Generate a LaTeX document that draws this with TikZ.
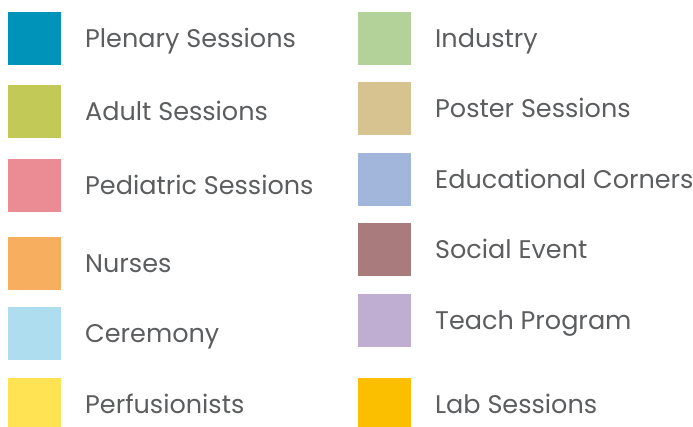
\documentclass[tikz,border=0pt]{standalone}
\usepackage{fontspec}
\setmainfont{Poppins}
\usetikzlibrary{positioning}
\definecolor{plenary}{HTML}{0093BA}
\definecolor{adult}{HTML}{C3C957}
\definecolor{pediatric}{HTML}{EB8C94}
\definecolor{nurses}{HTML}{F7AF5F}
\definecolor{ceremony}{HTML}{ADDDEF}
\definecolor{perfusion}{HTML}{FFE352}
\definecolor{industry}{HTML}{B3D29A}
\definecolor{poster}{HTML}{D6C38F}
\definecolor{educ}{HTML}{A2B5DA}
\definecolor{social}{HTML}{A97B7D}
\definecolor{teach}{HTML}{BFAED2}
\definecolor{lab}{HTML}{FBBF00}
\definecolor{labeltext}{HTML}{5C5D5F}
\tikzset{
  swatch/.style={minimum size=53pt,inner sep=0pt,outer sep=0pt},
  entry/.style={right=24pt of #1,inner sep=0pt,text height=18pt,text depth=0pt,
    text=labeltext,font=\fontsize{25.5}{26}\selectfont}
}
\begin{document}
\begin{tikzpicture}[x=1pt,y=-1pt]
  \useasboundingbox (0,0) rectangle (693,426);
  % left column
  \node[swatch,fill=plenary]   (plenary)   at (34.5,38.5)  {};
  \node[swatch,fill=adult]     (adult)     at (34.5,111.5) {};
  \node[swatch,fill=pediatric] (pediatric) at (34.5,185.5) {};
  \node[swatch,fill=nurses]    (nurses)    at (34.5,263.5) {};
  \node[swatch,fill=ceremony]  (ceremony)  at (34.5,333.5) {};
  \node[swatch,fill=perfusion] (perfusion) at (34.5,404.5) {};
  \node[entry=plenary]   (plenarytxt)   {Plenary Sessions};
  \node[entry=adult]     (adulttxt)     {Adult Sessions};
  \node[entry=pediatric] (pediatrictxt) {Pediatric Sessions};
  \node[entry=nurses]    (nursestxt)    {Nurses};
  \node[entry=ceremony]  (ceremonytxt)  {Ceremony};
  \node[entry=perfusion] (perfusiontxt) {Perfusionists};
  % right column
  \node[swatch,fill=industry] (industry) at (384.5,38.5)  {};
  \node[swatch,fill=poster]   (poster)   at (384.5,108.5) {};
  \node[swatch,fill=educ]     (educ)     at (384.5,179.5) {};
  \node[swatch,fill=social]   (social)   at (384.5,249.5) {};
  \node[swatch,fill=teach]    (teach)    at (384.5,320.5) {};
  \node[swatch,fill=lab]      (lab)      at (384.5,404.5) {};
  \node[entry=industry] (industrytxt) {Industry};
  \node[entry=poster]   (postertxt)   {Poster Sessions};
  \node[entry=educ]     (eductxt)     {Educational Corners};
  \node[entry=social]   (socialtxt)   {Social Event};
  \node[entry=teach]    (teachtxt)    {Teach Program};
  \node[entry=lab]      (labtxt)      {Lab Sessions};
\end{tikzpicture}
\end{document}
